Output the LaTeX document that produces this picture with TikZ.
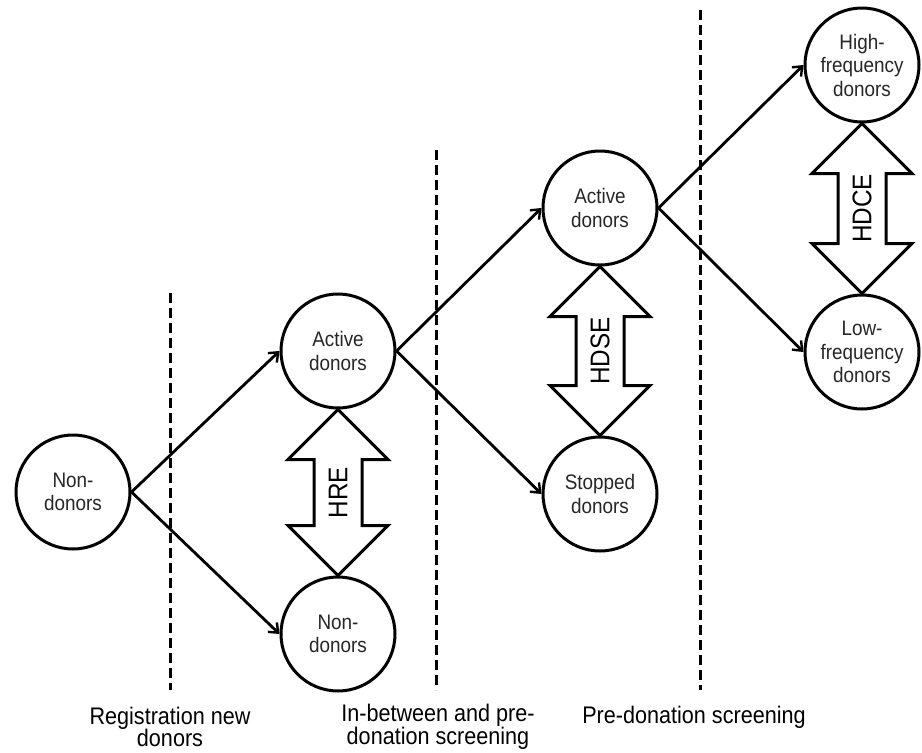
\documentclass[tikz,border=0pt]{standalone}
\usepackage{fontspec}
\setmainfont{Liberation Sans}
\newfontfamily\narrowsans[FakeStretch=0.9]{Liberation Sans}
\usetikzlibrary{calc,arrows.meta}
\tikzset{
  state/.style={circle,draw,line width=3pt,minimum size=114pt,inner sep=0pt,align=center,
    font=\narrowsans\fontsize{21}{23.5}\selectfont,text=black!85},
  flow/.style={line width=2.8pt,-{Straight Barb[length=8pt,width=13pt,line width=2.4pt]}},
  divider/.style={line width=3pt,dash pattern=on 10pt off 5pt},
  bigarrow/.style={line width=3pt,line join=miter,fill=white},
  arrlabel/.style={rotate=90,font=\narrowsans\fontsize{27}{28}\selectfont},
  phase/.style={align=center,inner sep=0pt,font=\narrowsans\fontsize{24}{22.5}\selectfont}
}
\newcommand{\hdarrow}[3]{%
  \draw[bigarrow] (#1.south) -- ($(#1.south)+(50,50)$) -- ($(#1.south)+(24,50)$)
    -- ($(#2.north)+(24,-50)$) -- ($(#2.north)+(50,-50)$) -- (#2.north)
    -- ($(#2.north)+(-50,-50)$) -- ($(#2.north)+(-24,-50)$)
    -- ($(#1.south)+(-24,50)$) -- ($(#1.south)+(-50,50)$) -- cycle;
  \node[arrlabel] at ($(#1.south)!0.5!(#2.north)$) {#3};}
\begin{document}
\begin{tikzpicture}[x=1pt,y=-1pt]
\useasboundingbox (0,0) rectangle (922,753);
% dividers
\coordinate (d1t) at (170,293); \coordinate (d1b) at (170,690);
\coordinate (d2t) at (436,150); \coordinate (d2b) at (436,690);
\coordinate (d3t) at (700,10);  \coordinate (d3b) at (700,690);
\draw[divider] (d1t) -- (d1b);
\draw[divider] (d2t) -- (d2b);
\draw[divider] (d3t) -- (d3b);
% states
\node[state] (n0) at (73,492) {Non-\\donors};
\node[state] (a1) at (338,351) {Active\\donors};
\node[state] (n1) at (338,634) {Non-\\donors};
\node[state] (a2) at (600,208) {Active\\donors};
\node[state] (s2) at (600,494) {Stopped\\donors};
\node[state] (h3) at (862,65) {High-\\frequency\\donors};
\node[state] (l3) at (862,352) {Low-\\frequency\\donors};
% flows
\draw[flow] (n0.east) -- (a1.west);
\draw[flow] (n0.east) -- (n1.west);
\draw[flow] (a1.east) -- (a2.west);
\draw[flow] (a1.east) -- (s2.west);
\draw[flow] (a2.east) -- (h3.west);
\draw[flow] (a2.east) -- (l3.west);
% double arrows
\hdarrow{a1}{n1}{HRE}
\hdarrow{a2}{s2}{HDSE}
\hdarrow{h3}{l3}{HDCE}
% phase labels
\node[phase] (p1) at (170,727) {Registration new\\donors};
\node[phase] (p2) at (438,727) {In-between and pre-\\donation screening};
\node[phase] (p3) at (694,717) {Pre-donation screening};
\end{tikzpicture}
\end{document}
